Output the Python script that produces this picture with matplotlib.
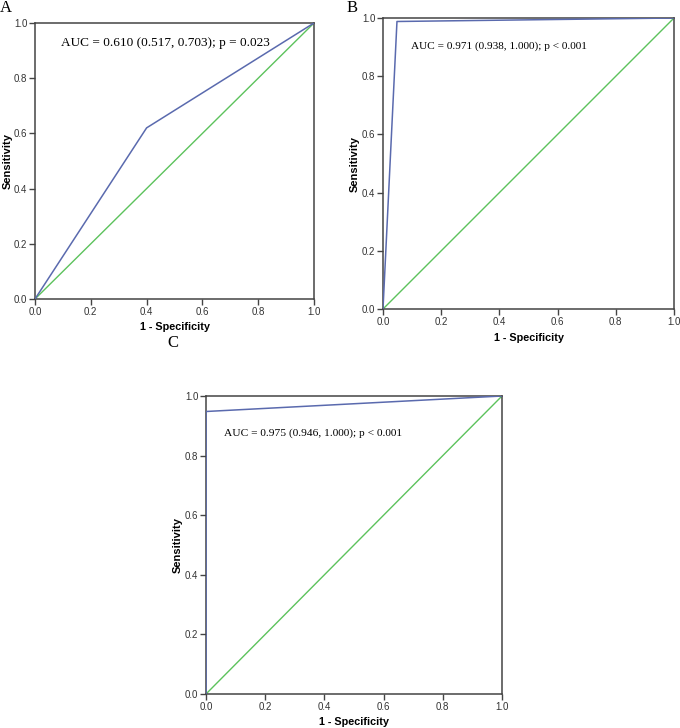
import numpy as np
import matplotlib
matplotlib.use('Agg')
import matplotlib.pyplot as plt

# ROC curve points
fpr_a = [0.0, 0.40, 1.0]
tpr_a = [0.0, 0.62, 1.0]
fpr_b = [0.0, 0.048, 1.0]
tpr_b = [0.0, 0.988, 1.0]
fpr_c = [0.0, 0.0, 1.0]
tpr_c = [0.0, 0.948, 1.0]

txt_a = 'AUC = 0.610 (0.517, 0.703); p = 0.023'
txt_b = 'AUC = 0.971 (0.938, 1.000); p < 0.001'
txt_c = 'AUC = 0.975 (0.946, 1.000); p < 0.001'

ticks = [0.0, 0.2, 0.4, 0.6, 0.8, 1.0]

W, H = 680., 728.
fig = plt.figure(figsize=(W/100, H/100), dpi=100)

def px_axes(l, t, r, b):
    return fig.add_axes([l/W, (H-b)/H, (r-l)/W, (b-t)/H])

def roc_panel(ax, fpr, tpr, txt, tx, ty, tsize, ylx, xly):
    ax.plot([0, 1], [0, 1], color='#5cc25c', lw=1.0, zorder=2)
    ax.plot(fpr, tpr, color='#5a6aae', lw=1.1, zorder=3)
    ax.set_xlim(0, 1)
    ax.set_ylim(0, 1)
    ax.set_xticks(ticks)
    ax.set_yticks(ticks)
    ax.set_xticklabels(['%.1f' % t for t in ticks])
    ax.set_yticklabels(['%.1f' % t for t in ticks])
    for s in ax.spines.values():
        s.set_color('#444444')
        s.set_linewidth(1.1)
    ax.tick_params(direction='out', length=4.5, width=1, color='#444444',
                   labelsize=7, labelcolor='#333333', pad=1)
    for lab in ax.get_xticklabels() + ax.get_yticklabels():
        lab.set_family('Liberation Sans')
    ax.set_xlabel('1 - Specificity', fontsize=7.8, fontweight='bold',
                  family='Liberation Sans', va='center')
    ax.set_ylabel('Sensitivity', fontsize=8, fontweight='bold',
                  family='Liberation Sans', va='center')
    ax.xaxis.set_label_coords(0.5, xly)
    ax.yaxis.set_label_coords(ylx, 0.5)
    ax.text(tx, ty, txt, fontsize=tsize, family='Liberation Serif',
            va='center', ha='left', transform=ax.transAxes)

ax_a = px_axes(35, 23, 314, 299)
roc_panel(ax_a, fpr_a, tpr_a, txt_a, 0.093, 0.927, 9.5, -0.097, -0.10)
ax_b = px_axes(383, 18, 674, 309)
roc_panel(ax_b, fpr_b, tpr_b, txt_b, 0.096, 0.904, 8.1, -0.096, -0.10)
ax_c = px_axes(206, 396, 502, 694)
roc_panel(ax_c, fpr_c, tpr_c, txt_c, 0.061, 0.876, 8.2, -0.095, -0.094)

for lab, x, y in [('A', 6, 8), ('B', 352, 8), ('C', 173, 343)]:
    fig.text(x/W, 1 - y/H, lab, fontsize=12, family='Liberation Serif',
             ha='center', va='center')

fig.savefig('out.png', dpi=100, facecolor='white')
